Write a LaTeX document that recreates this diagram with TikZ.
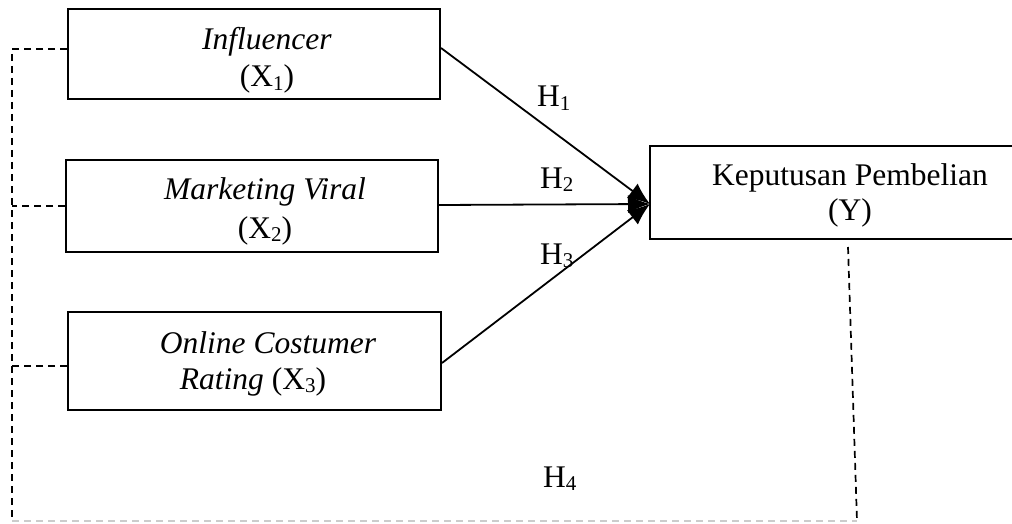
\documentclass[tikz,border=0pt]{standalone}
\usepackage{fontspec}
\setmainfont{Liberation Serif}
\usetikzlibrary{arrows.meta}
\newcommand{\lsub}[1]{\raisebox{-0.12em}{\fontsize{21}{21}\selectfont #1}}
\tikzset{
  vbox/.style={draw, line width=2pt, rectangle, inner sep=0pt},
  txt/.style={anchor=base, inner sep=0pt, font=\fontsize{31.5}{38}\selectfont},
  hlab/.style={anchor=base west, inner sep=0pt, font=\fontsize{31.5}{38}\selectfont},
  arr/.style={line width=1.8pt, -{Latex[length=22pt,width=18pt]}},
  dsh/.style={line width=1.7pt, dash pattern=on 7pt off 5pt},
  dshgray/.style={line width=1.5pt, gray!40, dash pattern=on 7pt off 5pt},
}
\begin{document}
\begin{tikzpicture}[x=1pt,y=-1pt]
\useasboundingbox (0,0) rectangle (1012,524);
\clip (0,0) rectangle (1012,524);
% boxes
\node[vbox, minimum width=372pt, minimum height=90pt] (x1) at (254,54.5) {};
\node[vbox, minimum width=372pt, minimum height=92pt] (x2) at (252,206) {};
\node[vbox, minimum width=373pt, minimum height=98pt] (x3) at (254.5,361) {};
\node[vbox, minimum width=400pt, minimum height=93pt] (y) at (850,192.5) {};
% texts
\node[txt] (x1a) at (267,50) {\textit{Influencer}};
\node[txt] (x1b) at (267,87) {(X\lsub{1})};
\node[txt] (x2a) at (265,199) {\textit{Marketing Viral}};
\node[txt] (x2b) at (265,238) {(X\lsub{2})};
\node[txt] (x3a) at (268,353) {\textit{Online Costumer}};
\node[txt] (x3b) at (253,389) {\textit{Rating} (X\lsub{3})};
\node[txt] (ya) at (850,185) {Keputusan Pembelian};
\node[txt] (yb) at (850,220) {(Y)};
% hypothesis labels
\node[hlab] (h1) at (537,107) {H\lsub{1}};
\node[hlab] (h2) at (540,188) {H\lsub{2}};
\node[hlab] (h3) at (540,264) {H\lsub{3}};
\node[hlab] (h4) at (543,487) {H\lsub{4}};
% arrows
\coordinate (tip) at (650,204);
\draw[arr] ([yshift=6.5pt]x1.east) -- (tip);
\draw[arr] ([yshift=1pt]x2.east) -- (tip);
\draw[arr] ([yshift=-2pt]x3.east) -- (tip);
% dashed links
\coordinate (c1) at (12,49);
\coordinate (c2) at (12,206);
\coordinate (c3) at (12,366);
\coordinate (cb) at (12,521);
\coordinate (ys) at (848,247);
\coordinate (ye) at (857,521);
\draw[dsh] (x1.west |- c1) -- (c1) -- (cb);
\draw[dsh] (x2.west |- c2) -- (c2);
\draw[dsh] (x3.west |- c3) -- (c3);
\draw[dshgray] (cb) -- (ye);
\draw[dsh] (ys) -- (ye);
\end{tikzpicture}
\end{document}
